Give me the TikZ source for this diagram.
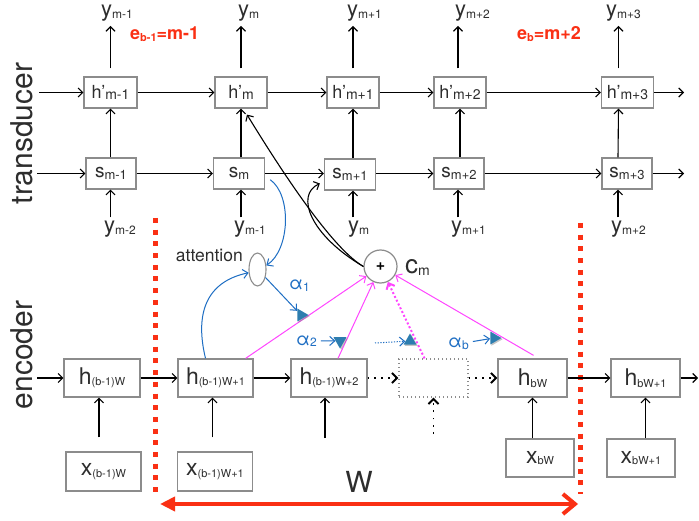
\documentclass[tikz,border=0pt]{standalone}
\usepackage{fontspec}
\setmainfont{TeX Gyre Heros}
\usetikzlibrary{arrows.meta,shapes.geometric,calc,shadows}
\definecolor{boxgray}{RGB}{140,140,140}
\definecolor{txt}{RGB}{45,45,45}
\definecolor{redc}{RGB}{250,48,20}
\definecolor{mag}{RGB}{255,70,255}
\definecolor{bluec}{RGB}{30,110,195}
\definecolor{trifill}{RGB}{45,125,175}
\newcommand\fs[1]{\fontsize{#1}{#1}\selectfont}
\newcommand\sbx[2]{\raisebox{-1.5pt}{\fs{#1}#2}}
\tikzset{
  tbox/.style={draw=boxgray, line width=1.3pt, fill=white, inner sep=0pt, text=txt, minimum height=31pt},
  ebox/.style={tbox, minimum height=38pt},
  arr/.style={-{Straight Barb[length=4.5pt,width=9pt]}, line width=1.1pt, draw=black},
  dotarr/.style={-{Straight Barb[length=5pt,width=10pt,line width=2pt]}, line width=1.8pt, dash pattern=on 1.8pt off 5pt, draw=black},
  mg/.style={-{Straight Barb[length=5pt,width=9pt]}, line width=1pt, draw=mag},
  bl/.style={-{Straight Barb[length=5pt,width=9pt]}, line width=1pt, draw=bluec},
  gate/.style={regular polygon, regular polygon sides=3, fill=trifill, inner sep=0pt, minimum size=15pt,
    drop shadow={shadow xshift=1.2pt, shadow yshift=-1.2pt, opacity=0.45}},
  ylab/.style={inner sep=1pt, text=txt, anchor=base west},
  reddot/.style={draw=redc, line width=5pt, dash pattern=on 5pt off 6.7pt},
  lbl/.style={inner sep=0pt, text=txt}
}
\begin{document}
\begin{tikzpicture}[x=1pt,y=-1pt]
\useasboundingbox[fill=white] (0,0) rectangle (699,521);

% red dotted separators
\coordinate (rl1) at (155,218);
\coordinate (rl2) at (155,498);
\coordinate (rr1) at (580,223);
\coordinate (rr2) at (580,494);
\draw[reddot] (rl1) -- (rl2);
\draw[reddot] (rr1) -- (rr2);

% side labels
\node[lbl, rotate=90] (trl) at (22,133.5) {\fs{30}transducer};
\node[lbl, rotate=90] (encl) at (22,355) {\fs{30}encoder};

% transducer h' row
\node[tbox, minimum width=53pt] (hm1) at (110.5,92.5) {\fs{18}h'\sbx{14}{m-1}};
\node[tbox, minimum width=52pt] (hm)  at (241,92.5) {\fs{18}h'\sbx{14}{m}};
\node[tbox, minimum width=52pt] (hp1) at (353,92.5) {\fs{18}h'\sbx{14}{m+1}};
\node[tbox, minimum width=52pt] (hp2) at (460,92.5) {\fs{18}h'\sbx{14}{m+2}};
\node[tbox, minimum width=52pt] (hp3) at (627.5,92.5) {\fs{18}h'\sbx{14}{m+3}};

% transducer s row
\node[tbox, minimum width=50pt] (s1)  at (111,173.5) {\fs{19}s\sbx{13}{m-1}};
\node[tbox, minimum width=51pt] (sm)  at (239,173.5) {\fs{19}s\sbx{13}{m}};
\node[tbox, minimum width=51pt] (sp1) at (350,174.5) {\fs{19}s\sbx{13}{m+1}};
\node[tbox, minimum width=50pt] (sp2) at (459,173.5) {\fs{19}s\sbx{13}{m+2}};
\node[tbox, minimum width=50pt] (sp3) at (627,173.5) {\fs{19}s\sbx{13}{m+3}};

% top y labels
\node[ylab] (yt1) at (100,17) {\fs{22}y\sbx{12}{m-1}};
\node[ylab] (yt2) at (237,17) {\fs{22}y\sbx{12}{m}};
\node[ylab] (yt3) at (346,17) {\fs{22}y\sbx{12}{m+1}};
\node[ylab] (yt4) at (454,17) {\fs{22}y\sbx{12}{m+2}};
\node[ylab] (yt5) at (605,17) {\fs{22}y\sbx{12}{m+3}};

% bottom y labels
\node[ylab] (yb1) at (103,233) {\fs{22}y\sbx{12}{m-2}};
\node[ylab] (yb2) at (233,233) {\fs{22}y\sbx{12}{m-1}};
\node[ylab] (yb3) at (347,233) {\fs{22}y\sbx{12}{m}};
\node[ylab] (yb4) at (450,233) {\fs{22}y\sbx{12}{m+1}};
\node[ylab] (yb5) at (610,233) {\fs{22}y\sbx{12}{m+2}};

% red e labels
\node[anchor=base west, inner sep=0pt, text=redc] (eL) at (130,40) {\fs{18}\bfseries e\sbx{11}{b-1}=m-1};
\node[anchor=base west, inner sep=0pt, text=redc] (eR) at (517,40) {\fs{18}\bfseries e\sbx{11}{b}=m+2};

% transducer arrows: horizontal
\coordinate (inh) at (39,92.5);
\coordinate (ins) at (37,173.5);
\coordinate (outh) at (684,92.5);
\coordinate (outs) at (684,173.5);
\draw[arr] (inh) -- (hm1);
\draw[arr] (hm1) -- (hm);
\draw[arr] (hm) -- (hp1);
\draw[arr] (hp1) -- (hp2);
\draw[arr] (hp2) -- (hp3);
\draw[arr] (hp3) -- (outh);
\draw[arr] (ins) -- (s1);
\draw[arr] (s1) -- (sm);
\draw[arr] (sm) -- (sp1.west |- sm);
\draw[arr] (sp1.east |- sp2) -- (sp2);
\draw[arr] (sp2) -- (sp3);
\draw[arr] (sp3) -- (outs);

% transducer arrows: vertical s -> h'
\draw[arr] (s1.north -| hm1) -- (hm1.south);
\draw[arr] (sm.north -| hm) -- (hm.south);
\draw[arr] (sp1.north -| hp1) -- (hp1.south);
\draw[arr] (sp2.north -| hp2) -- (hp2.south);
\draw[arr] ([xshift=-9pt]sp3.north) -- ([xshift=-9pt]hp3.south);

% h' -> y outputs
\draw[arr, shorten <=8pt, shorten >=3pt] (hm1.north) -- (hm1.north |- yt1.south);
\draw[arr, shorten <=8pt, shorten >=3pt] (hm.north) -- (hm.north |- yt2.south);
\draw[arr, shorten <=8pt, shorten >=3pt] (hp1.north) -- (hp1.north |- yt3.south);
\draw[arr, shorten <=8pt, shorten >=3pt] ([xshift=-2pt]hp2.north) -- ([xshift=-2pt]hp2.north |- yt4.south);
\draw[arr, shorten <=8pt, shorten >=3pt] ([xshift=-9pt]hp3.north) -- ([xshift=-9pt]hp3.north |- yt5.south);

% y inputs -> s
\draw[arr, shorten <=3pt] (yb1.north -| hm1) -- (s1.south -| hm1);
\draw[arr, shorten <=3pt] (yb2.north -| hm) -- (sm.south -| hm);
\draw[arr, shorten <=3pt] (yb3.north -| hp1) -- (sp1.south -| hp1);
\draw[arr, shorten <=3pt] ([xshift=-2pt]yb4.north -| hp2) -- ([xshift=-2pt]sp2.south -| hp2);
\draw[arr, shorten <=3pt] ([xshift=-9pt]yb5.north -| sp3) -- ([xshift=-9pt]sp3.south);

% encoder boxes
\node[ebox, minimum width=76pt] (e0) at (102,378) {\fs{23}h\sbx{11}{(b-1)W}};
\node[ebox, minimum width=75pt] (e1) at (215.5,378) {\fs{23}h\sbx{11}{(b-1)W+1}};
\node[ebox, minimum width=76pt] (e2) at (329,378) {\fs{23}h\sbx{11}{(b-1)W+2}};
\node[draw=boxgray, line width=1.2pt, dash pattern=on 1.3pt off 2.7pt, minimum width=69pt, minimum height=38pt, inner sep=0pt] (ed) at (433.5,378) {};
\node[ebox, minimum width=69pt] (eb) at (532.5,378) {\fs{23}h\sbx{11}{bW}};
\node[ebox, minimum width=69pt] (eb1) at (645.5,378) {\fs{23}h\sbx{11}{bW+1}};

\node[ebox, minimum width=75pt, minimum height=39pt] (x0) at (103.5,471.5) {\fs{23}x\sbx{11}{(b-1)W}};
\node[ebox, minimum width=75pt, minimum height=39pt] (x1) at (215,471.5) {\fs{23}x\sbx{11}{(b-1)W+1}};
\node[ebox, minimum width=68pt] (xb) at (540,458) {\fs{23}x\sbx{11}{bW}};
\node[ebox, minimum width=68pt] (xb1) at (641,458) {\fs{23}x\sbx{11}{bW+1}};

% encoder arrows
\coordinate (ine) at (37,378);
\coordinate (oute) at (698,378);
\draw[arr] (ine) -- (e0);
\draw[arr] (e0) -- (e1);
\draw[arr] (e1) -- (e2);
\draw[dotarr] (e2) -- (ed);
\draw[dotarr] (ed) -- (eb);
\draw[arr] (eb) -- (eb1);
\draw[arr] (eb1) -- (oute);

\draw[arr, shorten <=14pt] ([xshift=-3pt]x0.north -| e0) -- ([xshift=-3pt]e0.south);
\draw[arr, shorten <=14pt] ([xshift=-3pt]x1.north -| e1) -- ([xshift=-3pt]e1.south);
\coordinate (x2in) at (325,438);
\draw[arr] (x2in) -- (x2in |- e2.south);
\coordinate (xdin) at (433.5,434);
\draw[dotarr, dash pattern=on 1.8pt off 5.5pt] (xdin) -- (xdin |- ed.south);
\draw[arr] (xb.north -| eb) -- (eb.south);
\draw[arr] (xb1.north -| eb1) -- (eb1.south);

% attention and context
\node[ellipse, draw=boxgray, line width=1.1pt, fill=white, minimum width=17pt, minimum height=33pt, inner sep=0pt] (att) at (257.5,269.5) {};
\node[anchor=base east, lbl] (attl) at (243,262) {\fs{17.5}attention};
\node[circle, draw=boxgray, line width=1.2pt, fill=white, minimum size=33pt, inner sep=0pt] (c) at (380.5,266.5) {\fs{16}\bfseries +};
\node[anchor=base west, lbl] (cml) at (405,274) {\fs{26}c\sbx{14}{m}};

% magenta lines into c
\draw[mg] ($(e1.north east)+(-8,0)$) -- (c);
\draw[mg] ($(e2.north)+(9,0)$) -- (c);
\draw[mg, line width=2pt, dash pattern=on 2pt off 2.2pt] ($(ed.north)+(-9,0)$) -- (c);
\draw[mg] ($(eb.north)+(1,-3)$) -- (c);

% black curves from c
\draw[arr] (c.west) .. controls (335,250) and (290,185) .. ($(hm.south)+(6,6)$);
\draw[arr] (c.west) .. controls (310,235) and (295,195) .. ($(sp1.west)+(-4,9)$);

% blue attention curves
\draw[bl] ($(sm.south east)+(5,-10)$) .. controls (292,195) and (290,250) .. (att.25);
\draw[bl] ($(e1.north)+(-10,0)$) .. controls (195,315) and (205,282) .. (att.200);

% gates
\node[gate, rotate=-90] (g1) at (301,315) {};
\node[gate, rotate=180] (g2) at (340,341) {};
\node[gate] (g3) at (410,341) {};
\node[gate, rotate=-90] (gb) at (494,338) {};

% alpha labels and arrows
\node[anchor=base west, inner sep=1pt, text=bluec] (a1) at (288,290) {\fs{18}α\sbx{12}{1}};
\node[anchor=base west, inner sep=1pt, text=bluec] (a2) at (295,345) {\fs{18}α\sbx{12}{2}};
\node[anchor=base west, inner sep=1pt, text=bluec] (ab) at (447,348) {\fs{18}α\sbx{12}{b}};
\draw[bl] (att.-45) -- (g1);
\draw[bl, shorten <=3pt] (a2) -- (g2);
\draw[bl, shorten <=3pt] (ab) -- (gb);
\coordinate (dbs) at (375,343);
\draw[bl, dash pattern=on 1.2pt off 1.5pt] (dbs) -- (g3);

% window arrow
\coordinate (wl) at (160,504);
\coordinate (wr) at (578,504);
\draw[draw=redc, line width=4pt, {Triangle[length=15pt,width=14pt]}-{Straight Barb[length=12pt,width=20pt]}] (wl) -- (wr);
\node[anchor=base, lbl] (wlab) at (359,492) {\fs{29}W};
\end{tikzpicture}
\end{document}
